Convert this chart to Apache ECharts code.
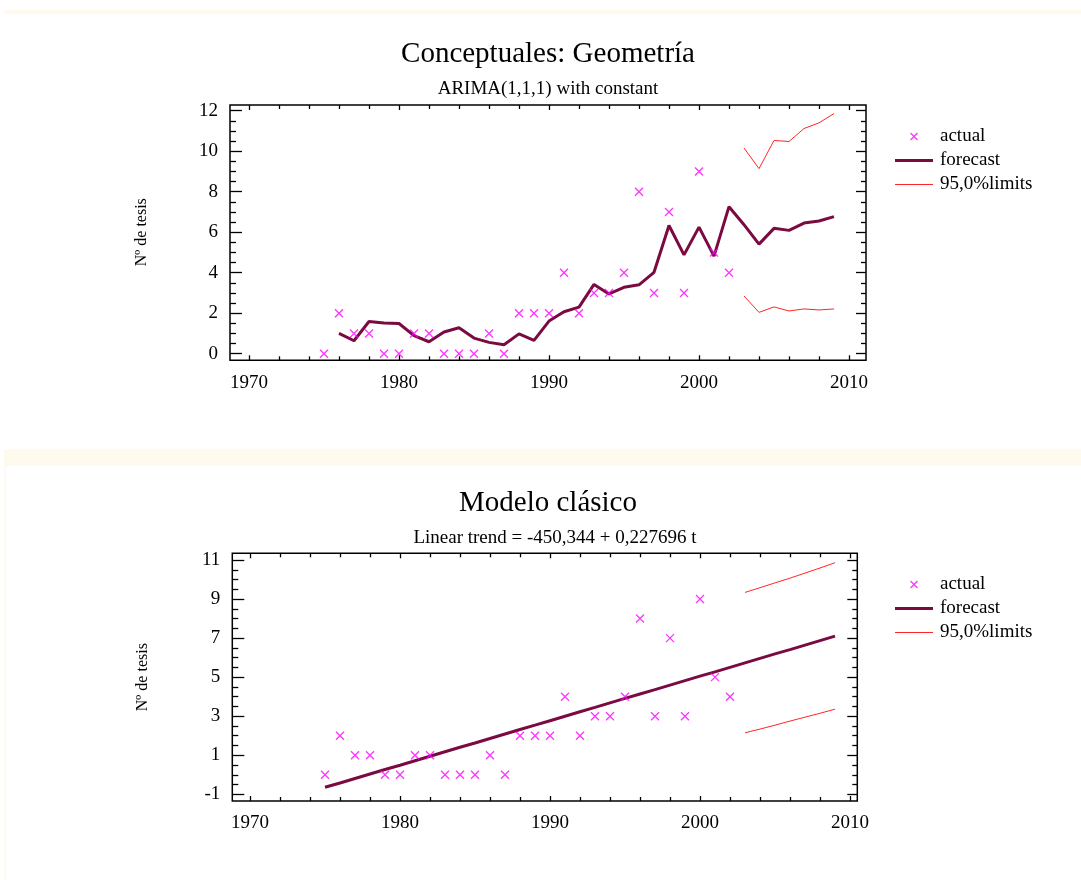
<!DOCTYPE html>
<html><head><meta charset="utf-8">
<script src="https://cdn.jsdelivr.net/npm/echarts@6/dist/echarts.min.js"></script>
<style>html,body{margin:0;padding:0;background:#fff}#c{width:1081px;height:880px}</style>
</head><body><div id="c"></div>
<script>
// ---------- data ----------
const actualYears = [1975,1976,1977,1978,1979,1980,1981,1982,1983,1984,1985,1986,1987,1988,1989,1990,1991,1992,1993,1994,1995,1996,1997,1998,1999,2000,2001,2002];
const actualValues = [0,2,1,1,0,0,1,1,0,0,0,1,0,2,2,2,4,2,3,3,4,8,3,7,3,9,5,4];

const arimaYears = [1976,1977,1978,1979,1980,1981,1982,1983,1984,1985,1986,1987,1988,1989,1990,1991,1992,1993,1994,1995,1996,1997,1998,1999,2000,2001,2002,2003,2004,2005,2006,2007,2008,2009];
const arimaForecast = [1.00,0.64,1.59,1.52,1.49,0.89,0.59,1.07,1.28,0.77,0.56,0.44,0.98,0.66,1.61,2.07,2.30,3.42,2.95,3.28,3.40,4.02,6.33,4.88,6.25,4.82,7.26,6.37,5.41,6.19,6.09,6.45,6.55,6.77];

const limitYears = [2003,2004,2005,2006,2007,2008,2009];
const arimaUpper = [10.16,9.14,10.53,10.48,11.12,11.40,11.86];
const arimaLower = [2.85,2.04,2.31,2.11,2.21,2.16,2.21];

const trendYears = [1975,1976,1977,1978,1979,1980,1981,1982,1983,1984,1985,1986,1987,1988,1989,1990,1991,1992,1993,1994,1995,1996,1997,1998,1999,2000,2001,2002,2003,2004,2005,2006,2007,2008,2009];
const trendForecast = [-0.64,-0.42,-0.19,0.04,0.27,0.49,0.72,0.95,1.18,1.41,1.63,1.86,2.09,2.32,2.54,2.77,3.00,3.23,3.45,3.68,3.91,4.14,4.36,4.59,4.82,5.05,5.27,5.50,5.73,5.96,6.19,6.41,6.64,6.87,7.10];
const trendUpper = [9.34,9.58,9.83,10.07,10.33,10.59,10.86];
const trendLower = [2.15,2.34,2.54,2.75,2.95,3.15,3.36];

const topTitle = 'Conceptuales: Geometría';
const topSubtitle = 'ARIMA(1,1,1) with constant';
const bottomTitle = 'Modelo clásico';
const bottomSubtitle = 'Linear trend = -450,344 + 0,227696 t';
const yName = 'Nº de tesis';
const legendNames = ['actual','forecast','95,0%limits'];

// ---------- styling ----------
const FONT = '"Liberation Serif", "Times New Roman", serif';
const C_ACT = '#ff00ff', C_FC = '#7a0a40', C_LIM = '#ff2626';
const xSym = 'path://M0,0L10,10M10,0L0,10';
const xIcon = 'path://M0,0M20,20M5,5L15,15M15,5L5,15';
const fcIcon = 'path://M0,0M38,14M0,5.5L38,5.5L38,8.5L0,8.5Z';
const limIcon = 'path://M0,0M38,14M0,6.5L38,6.5L38,7.6L0,7.6Z';

const zip = (xs, ys) => xs.map((x, i) => [x, ys[i]]);

function xAxis(grid, pos, offset, labels) {
  return {
    type: 'value', gridIndex: grid, position: pos, offset: offset,
    min: 1970, max: 2010, interval: 10,
    axisLine: {show: false, onZero: false},
    axisTick: {show: true, inside: true, length: 5, lineStyle: {color: '#000', width: 1.3}},
    minorTick: {show: true, splitNumber: 5, length: 4, lineStyle: {color: '#000', width: 1.3}},
    splitLine: {show: false}, minorSplitLine: {show: false},
    axisLabel: {show: labels, margin: 13, fontFamily: FONT, fontSize: 19, color: '#000', formatter: v => String(v)}
  };
}
function yAxis(grid, pos, offset, labels, min, max, majorLen, minorLen, nameGap) {
  const a = {
    type: 'value', gridIndex: grid, position: pos, offset: offset,
    min: min, max: max, interval: 2,
    axisLine: {show: false, onZero: false},
    axisTick: {show: true, inside: true, length: majorLen, lineStyle: {color: '#000', width: 1.3}},
    minorTick: {show: true, splitNumber: 4, length: minorLen, lineStyle: {color: '#000', width: 1.3}},
    splitLine: {show: false}, minorSplitLine: {show: false},
    axisLabel: {show: labels, margin: 12, fontFamily: FONT, fontSize: 19, color: '#000', formatter: v => String(v)}
  };
  if (labels) {
    a.name = yName; a.nameLocation = 'middle'; a.nameGap = nameGap;
    a.nameTextStyle = {fontFamily: FONT, fontSize: 16, color: '#000'};
  }
  return a;
}
function legend(top) {
  return {
    orient: 'vertical', left: 890, top: top, itemWidth: 38, itemHeight: 14, itemGap: 5,
    selectedMode: false,
    textStyle: {fontFamily: FONT, fontSize: 19, color: '#000', padding: [0, 0, 0, 2]},
    data: [
      {name: legendNames[0], icon: xIcon, itemStyle: {color: 'rgba(0,0,0,0)', borderColor: C_ACT, borderWidth: 1.3}},
      {name: legendNames[1], icon: fcIcon, itemStyle: {color: C_FC, borderWidth: 0}},
      {name: legendNames[2], icon: limIcon, itemStyle: {color: C_LIM, borderWidth: 0}}
    ]
  };
}
function seriesFor(xi, yi, fcYears, fc, up, lo) {
  return [
    {type: 'scatter', name: legendNames[0], xAxisIndex: xi, yAxisIndex: yi, data: zip(actualYears, actualValues),
     symbol: xSym, symbolSize: 8, itemStyle: {color: 'rgba(0,0,0,0)', borderColor: C_ACT, borderWidth: 1.3}, z: 3},
    {type: 'line', name: legendNames[1], xAxisIndex: xi, yAxisIndex: yi, data: zip(fcYears, fc),
     symbol: 'none', lineStyle: {color: C_FC, width: 3}, itemStyle: {color: C_FC}, z: 2},
    {type: 'line', name: legendNames[2], xAxisIndex: xi, yAxisIndex: yi, data: zip(limitYears, up),
     symbol: 'none', lineStyle: {color: C_LIM, width: 1}, itemStyle: {color: C_LIM}, z: 2},
    {type: 'line', name: legendNames[2], xAxisIndex: xi, yAxisIndex: yi, data: zip(limitYears, lo),
     symbol: 'none', lineStyle: {color: C_LIM, width: 1}, itemStyle: {color: C_LIM}, z: 2}
  ];
}
function text(x, y, str, size) {
  return {type: 'text', x: x, y: y, style: {text: str, fontFamily: FONT, fontSize: size, fill: '#000', align: 'center', verticalAlign: 'middle'}};
}

const chart = echarts.init(document.getElementById('c'), null, {renderer: 'canvas'});
chart.setOption({
  backgroundColor: '#ffffff',
  animation: false,
  grid: [
    {left: 249, top: 110.7, width: 600, height: 243},
    {left: 250, top: 560, width: 600, height: 234.3}
  ],
  xAxis: [
    xAxis(0, 'bottom', 6.6, true),
    xAxis(0, 'top', 5.7, false),
    xAxis(1, 'bottom', 6.7, true),
    xAxis(1, 'top', 6.7, false)
  ],
  yAxis: [
    yAxis(0, 'left', 19, true, 0, 12, 12, 6, 80),
    yAxis(0, 'right', 17, false, 0, 12, 10, 5, 0),
    yAxis(1, 'left', 17.7, true, -1, 11, 12, 6, 82),
    yAxis(1, 'right', 7.3, false, -1, 11, 10, 5, 0)
  ],
  legend: [legend(122), legend(570)],
  series: [].concat(
    seriesFor(0, 0, arimaYears, arimaForecast, arimaUpper, arimaLower),
    seriesFor(2, 2, trendYears, trendForecast, trendUpper, trendLower)
  ),
  graphic: [
    {type: 'rect', shape: {x: 4, y: 10, width: 1077, height: 4}, style: {fill: '#fffaee'}, silent: true},
    {type: 'rect', shape: {x: 4, y: 449, width: 1077, height: 17}, style: {fill: '#fffaee'}, silent: true},
    {type: 'rect', shape: {x: 4, y: 466, width: 2, height: 414}, style: {fill: '#fffaee'}, silent: true},
    {type: 'rect', shape: {x: 230, y: 105, width: 636, height: 255.3}, style: {fill: 'none', stroke: '#000', lineWidth: 1.5}, silent: true, z: 10},
    {type: 'rect', shape: {x: 232.3, y: 553.3, width: 625, height: 247.7}, style: {fill: 'none', stroke: '#000', lineWidth: 1.5}, silent: true, z: 10},
    text(548, 54, topTitle, 29),
    text(548, 89, topSubtitle, 19),
    text(548, 503, bottomTitle, 29),
    text(555, 538, bottomSubtitle, 19)
  ]
});
</script></body></html>
